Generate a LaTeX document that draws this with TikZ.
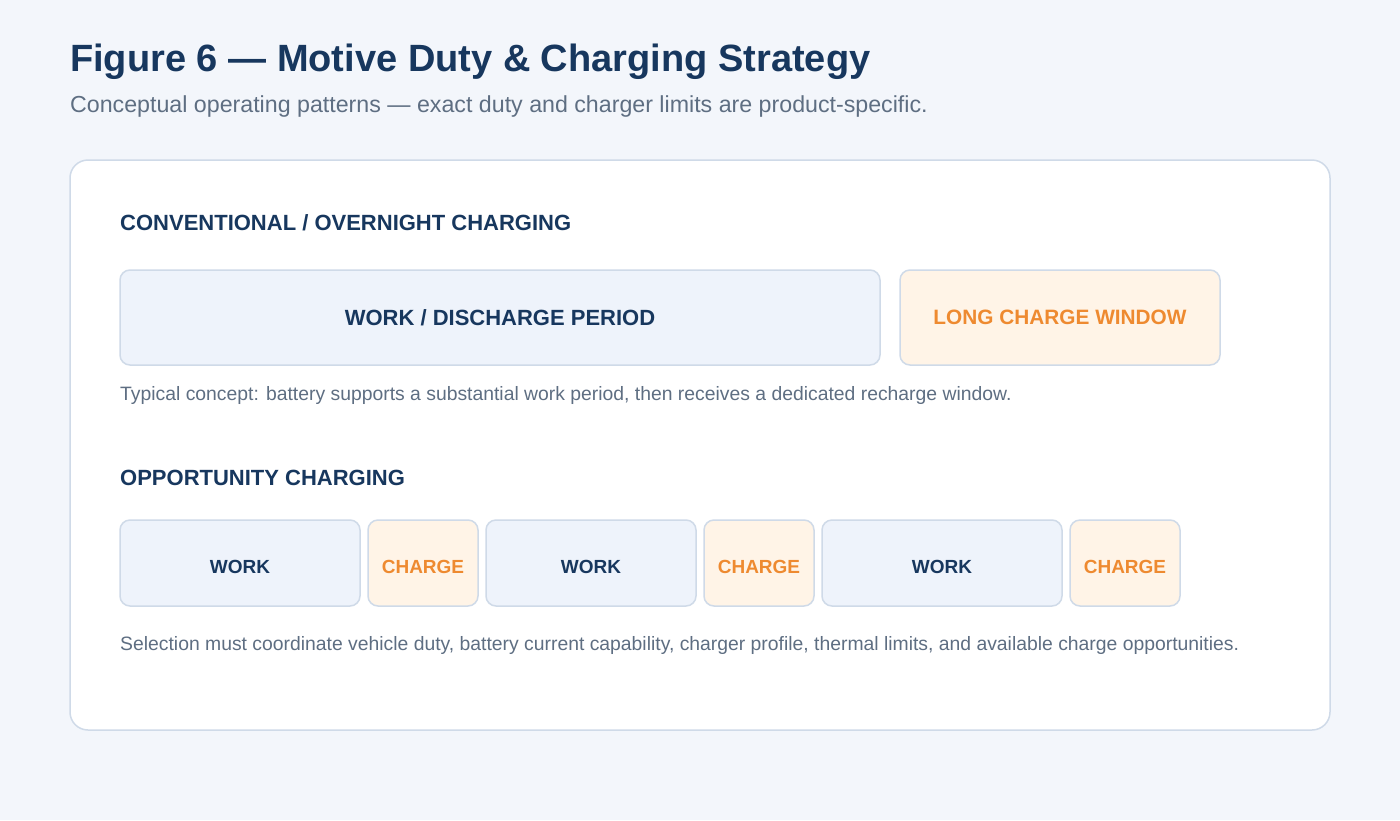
\documentclass[tikz,border=0pt]{standalone}
\usepackage{fontspec}
\setmainfont{Liberation Sans}
\usetikzlibrary{positioning}
\definecolor{navy}{HTML}{17375E}
\definecolor{slate}{HTML}{5E6E82}
\definecolor{edge}{HTML}{CFDAE8}
\definecolor{workbg}{HTML}{EEF3FB}
\definecolor{chargebg}{HTML}{FFF4E7}
\definecolor{amber}{HTML}{EE8A30}
\definecolor{page}{HTML}{F3F6FB}
\tikzset{
 w/.style
  = {rectangle, draw=edge, fill=workbg, line width=1.5pt, rounded corners=10pt,
     inner sep=0pt, outer sep=0pt, text=navy, font=\bfseries\fontsize{22}{26}\selectfont},
 c/.style
  = {w, fill=chargebg, text=amber, font=\bfseries\fontsize{20.8}{25}\selectfont},
 ww/.style
  = {w, minimum height=86pt, text height=21.5pt, font=\bfseries\fontsize{19}{23}\selectfont},
 cc/.style
  = {ww, fill=chargebg, text=amber, minimum width=110pt},
 h/.style
  = {anchor=base west, inner sep=0pt, text=navy, font=\bfseries\fontsize{22}{26}\selectfont},
 n/.style
  = {anchor=base west, inner sep=0pt, text=slate, font=\fontsize{19.35}{23}\selectfont},
}

\begin{document}
\begin{tikzpicture}[x=1pt,y=-1pt,node distance=8pt]
    \fill [page] (0,0) rectangle (1400,820);
    \useasboundingbox (0,0) rectangle (1400,820);
    \draw [edge, fill=white, line width=1.5pt, rounded corners=18pt] (70,160) rectangle (1330,730);

    \node [anchor=base west, inner sep=0pt, text=navy, font=\bfseries\fontsize{38}{44}\selectfont] (title) at (70,71) {Figure 6 — Motive Duty \& Charging Strategy};
    \node [anchor=base west, inner sep=0pt, text=slate, font=\fontsize{23.2}{27}\selectfont] (sub) at (70,112) {Conceptual operating patterns — exact duty and charger limits are product-specific.};

    % conventional
    \node [h] (conv) at (120,230) {CONVENTIONAL / OVERNIGHT CHARGING};
    \node [w, anchor=north west, minimum width=760pt, minimum height=95pt] (discharge) at (120,270) {WORK / DISCHARGE PERIOD};
    \node [c, right = 20pt of discharge, minimum width=320pt, minimum height=95pt] (window) {LONG CHARGE WINDOW};
    \node [n] (note1) at (120,400) {Typical concept: battery supports a substantial work period, then receives a dedicated recharge window.};

    % opportunity
    \node [h] (opp) at (120,485) {OPPORTUNITY CHARGING};
    \node [ww, anchor=north west, minimum width=240pt] (work1) at (120,520) {WORK};
    \node [cc, right = of work1] (charge1) {CHARGE};
    \node [ww, right = of charge1, minimum width=210pt] (work2) {WORK};
    \node [cc, right = of work2] (charge2) {CHARGE};
    \node [ww, right = of charge2, minimum width=240pt] (work3) {WORK};
    \node [cc, right = of work3] (charge3) {CHARGE};
    \node [n] (note2) at (120,650) {Selection must coordinate vehicle duty, battery current capability, charger profile, thermal limits, and available charge opportunities.};
  \end{tikzpicture}
\end{document}
